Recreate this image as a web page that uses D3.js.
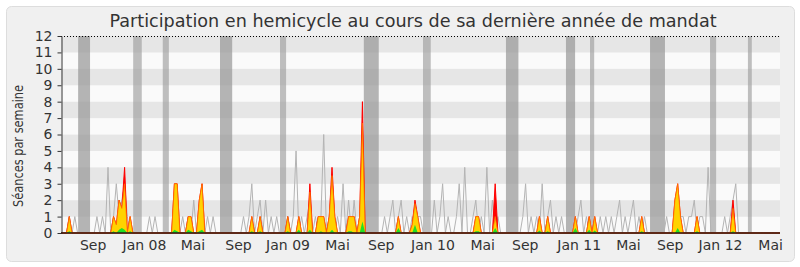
<!DOCTYPE html>
<html>
<head>
<meta charset="utf-8">
<script src="https://cdn.jsdelivr.net/npm/d3@7"></script>
<style>
body{margin:0;background:#fff;}
svg{display:block;}
text{font-family:"DejaVu Sans",sans-serif;fill:#333;}
</style>
</head>
<body>
<svg width="800" height="267"></svg>
<script>
// semaines 0..260 (juin 2007 -> juin 2012)
var presences = [
 0,0,0,1,0,0,0,0,0,0,
 0,0,0,0,0,0,0,0,0,1,
 0.5,2,1.5,4,0,1,0,0,0,0,
 0,0,0,0,0,0,0,0,0,0,
 0,3,3,0,0,0,1,1,0,0,
 2,3,0,0,0,0,0,0,0,0,
 0,0,0,0,0,0,0,0,0,1,
 0,0,1,0,0,0,0,0,0,0,
 0,0,1,0,0,0,1,0,0,0,
 3,0,0,1,1,1,0,1,4,1,
 0,0,0,0,1,1,1,0,1,8,
 0,0,0,0,0,0,0,0,0,0,
 0,0,1,0,0,0,0,0.5,2,1,
 0,0,0,0,0,0,0,0,0,0,
 0,0,0,0,0,0,0,0,0,0,
 1,1,0,0,0,0,0,3,0,0,
 0,0,0,0,0,0,0,0,0,0,
 0,0,0,1,0,0,1,0,0,0,
 0,0,0,0,0,0,1,0,0,0,
 0,1,0,1,0,0,0,0,0,0,
 0,0,0,0,0,0,0,0,0,0,
 1,0,0,0,0,0,0,0,0,0,
 0,0,2,3,1,0,0,0,0,0,
 1,0,0,0,0,0,0,0,0,0,
 0,0,0,2,0,0,0,0,0,0,
 0,0,0,0,0,0,0,0,0,0,
 0];
var participations = [
 0,0,0,1,0,0,0,0,0,0,
 0,0,0,0,0,0,0,0,0,1,
 0.5,2,1.5,3,0,1,0,0,0,0,
 0,0,0,0,0,0,0,0,0,0,
 0,3,3,0,0,0,1,1,0,0,
 2,3,0,0,0,0,0,0,0,0,
 0,0,0,0,0,0,0,0,0,1,
 0,0,1,0,0,0,0,0,0,0,
 0,0,1,0,0,0,1,0,0,0,
 2.5,0,0,1,1,1,0,1,3.5,1,
 0,0,0,0,1,1,1,0,1,6.7,
 0,0,0,0,0,0,0,0,0,0,
 0,0,1,0,0,0,0,0.5,1.8,1,
 0,0,0,0,0,0,0,0,0,0,
 0,0,0,0,0,0,0,0,0,0,
 1,1,0,0,0,0,0,1,0,0,
 0,0,0,0,0,0,0,0,0,0,
 0,0,0,1,0,0,1,0,0,0,
 0,0,0,0,0,0,1,0,0,0,
 0,1,0,1,0,0,0,0,0,0,
 0,0,0,0,0,0,0,0,0,0,
 1,0,0,0,0,0,0,0,0,0,
 0,0,2,3,1,0,0,0,0,0,
 1,0,0,0,0,0,0,0,0,0,
 0,0,0,1.5,0,0,0,0,0,0,
 0,0,0,0,0,0,0,0,0,0,
 0];
var interventions = [
 0,0,0,0.1,0,0,0,0,0,0,
 0,0,0,0,0,0,0,0,0,0.1,
 0,0.2,0.3,0.2,0,0.1,0,0,0,0,
 0,0,0,0,0,0,0,0,0,0,
 0,0.2,0.1,0,0,0,0.2,0.1,0,0,
 0.1,0.2,0,0,0,0,0,0,0,0,
 0,0,0,0,0,0,0,0,0,0.1,
 0,0,0.1,0,0,0,0,0,0,0,
 0,0,0.1,0,0,0,0.2,0,0,0,
 0.2,0,0,0,0.1,0,0,0,0.2,0,
 0,0,0,0,0.1,0.1,0,0,0,0.7,
 0,0,0,0,0,0,0,0,0,0,
 0,0,0.3,0,0,0,0,0,0.5,0,
 0,0,0,0,0,0,0,0,0,0,
 0,0,0,0,0,0,0,0,0,0,
 0.1,0.1,0,0,0,0,0,0.3,0,0,
 0,0,0,0,0,0,0,0,0,0,
 0,0,0,0.15,0,0,0.1,0,0,0,
 0,0,0,0,0,0,0.3,0,0,0,
 0,0.2,0,0.15,0,0,0,0,0,0,
 0,0,0,0,0,0,0,0,0,0,
 0.1,0,0,0,0,0,0,0,0,0,
 0,0,0,0.3,0,0,0,0,0,0,
 0.1,0,0,0,0,0,0,0,0,0,
 0,0,0,0.1,0,0,0,0,0,0,
 0,0,0,0,0,0,0,0,0,0,
 0];
var mediane = [
 0,0,0,1,0,1,0,0,0,0,
 0,0,0,1,0,1,0,4,0,1,
 3,1,2,3,1,0,0,0,0,0,
 0,0,1,0,1,0,0,0,0,0,
 0,2,1,0,1,0,1,0,2,0,
 1,2,0,1,0,1,0,0,0,0,
 0,0,0,0,0,0,1,0,1,3,
 0,1,2,0,2,0,1,0,1,0,
 0,0,1,0,1,5,0,1,0,1,
 2,0,1,0,1,6,0,1,2,0,
 1,0,3,0,2,0,2,0,1,2,
 0,0,0,0,0,0,0,1,0,1,
 2,0,1,2,0,1,0,1,0,1,
 1,0,0,0,0,2,0,1,3,0,
 1,0,0,1,3,0,4,0,0,1,
 2,0,1,0,4,0,2,0,1,0,
 0,0,0,0,0,0,0,1,3,0,
 1,0,1,0,3,0,1,2,0,1,
 0,1,0,0,0,0,0,1,2,0,
 1,0,0,0,0,1,0,1,0,1,
 0,1,2,0,1,0,1,2,0,1,
 0,1,0,0,0,0,0,0,0,1,
 0,0,1,0,1,1,0,1,1,2,
 0,1,1,0,4,0,0,0,0,0,
 1,0,1,2,3,0,0,0,0,0,
 0,0,0,0,0,0,0,0,0,0,
 0];

// vacances parlementaires (semaine debut, semaine fin)
var vacDebut = [6.2, 26.1, 36.8, 57.5, 79.2, 109.5, 130.9, 160.9, 182.6, 191.3, 213, 234.7, 248.4];
var vacFin   = [10.5, 29.2, 39, 61.9, 81.4, 114.9, 133.7, 165.4, 185.9, 192.8, 218.4, 236.9, 249.8];
var vacLongue = [1, 0, 0, 1, 0, 1, 0, 1, 1, 0, 1, 0, 0];

var moisLabels = ['Sep','Jan 08','Mai','Sep','Jan 09','Mai','Sep','Jan 10','Mai','Sep','Jan 11','Mai','Sep','Jan 12','Mai'];
var moisSemaine = [11.6, 30.2, 47.7, 64.2, 82.1, 100.0, 115.8, 134.5, 152.5, 167.9, 187.4, 205.2, 220.3, 238.5, 256.6];
var yTicks = [0,1,2,3,4,5,6,7,8,9,10,11,12];

var svg = d3.select('svg');
var gauche = 61, droite = 780, haut = 36, bas = 233;

var x = d3.scaleLinear().domain([0, 260]).range([gauche, droite]);
var y = d3.scaleLinear().domain([0, 12]).range([bas, haut]);

// fond
svg.append('rect').attr('x', 6.5).attr('y', 6.5).attr('width', 788).attr('height', 255)
	.attr('rx', 5).attr('fill', '#f0f0f0').attr('stroke', '#dddddd');

svg.append('text').attr('x', 413).attr('y', 27).attr('text-anchor', 'middle')
	.style('font-size', '17.6px').text('Participation en hemicycle au cours de sa dernière année de mandat');

// bandes horizontales
var stripes = svg.append('g');
for (var k = 0; k < 12; k++) {
	stripes.append('rect').attr('x', gauche).attr('width', droite - gauche)
		.attr('y', y(k + 1)).attr('height', y(k) - y(k + 1))
		.attr('fill', k % 2 == 1 ? '#e6e6e6' : '#fafafa');
}

// vacances
svg.append('g').selectAll('rect').data(vacDebut).join('rect')
	.attr('x', function(d){ return x(d); })
	.attr('width', function(d, i){ return x(vacFin[i]) - x(d); })
	.attr('y', haut).attr('height', bas - haut)
	.attr('fill', '#999999')
	.attr('fill-opacity', function(d, i){ return vacLongue[i] ? 0.72 : 0.62; });

// mediane
var line = d3.line().x(function(d, i){ return x(i); }).y(function(d){ return y(d); });
svg.append('path').datum(mediane).attr('d', line)
	.attr('fill', 'none').attr('stroke', '#b4b4b4').attr('stroke-width', 1);

var area = d3.area().x(function(d, i){ return x(i); }).y0(y(0)).y1(function(d){ return y(d); });
svg.append('path').datum(presences).attr('d', area)
	.attr('fill', '#ff0000').attr('stroke', '#ff0000').attr('stroke-width', 1);
svg.append('path').datum(participations).attr('d', area)
	.attr('fill', '#ffd200').attr('stroke', '#ff7000').attr('stroke-width', 0.8);
svg.append('path').datum(interventions).attr('d', area)
	.attr('fill', '#22e022').attr('stroke', 'none');

// axes
svg.append('line').attr('x1', gauche).attr('x2', droite).attr('y1', haut + 0.5).attr('y2', haut + 0.5)
	.attr('stroke', '#000').attr('stroke-dasharray', '1,2');

var yAxis = d3.axisLeft(y).tickValues(yTicks).tickSize(4).tickSizeOuter(0).tickPadding(5);
var gy = svg.append('g').attr('transform', 'translate(' + (gauche + 0.5) + ',0)').call(yAxis);
gy.select('.domain').attr('stroke', '#333');
gy.selectAll('.tick line').attr('stroke', '#333');
gy.selectAll('text').style('font-size', '14px').attr('fill', '#333').attr('font-family', null);

svg.append('line').attr('x1', gauche).attr('x2', droite).attr('y1', bas).attr('y2', bas)
	.attr('stroke', '#2a1a1a').attr('stroke-width', 1.6);

svg.append('g').selectAll('text').data(moisLabels).join('text')
	.attr('x', function(d, i){ return x(moisSemaine[i]); })
	.attr('y', 250).attr('text-anchor', 'middle').style('font-size', '14px')
	.text(function(d){ return d; });

svg.append('text').attr('transform', 'translate(23,146) rotate(-90)')
	.attr('text-anchor', 'middle').style('font-size', '13.5px')
	.attr('textLength', 122).attr('lengthAdjust', 'spacingAndGlyphs')
	.text('Séances par semaine');
</script>
</body>
</html>
